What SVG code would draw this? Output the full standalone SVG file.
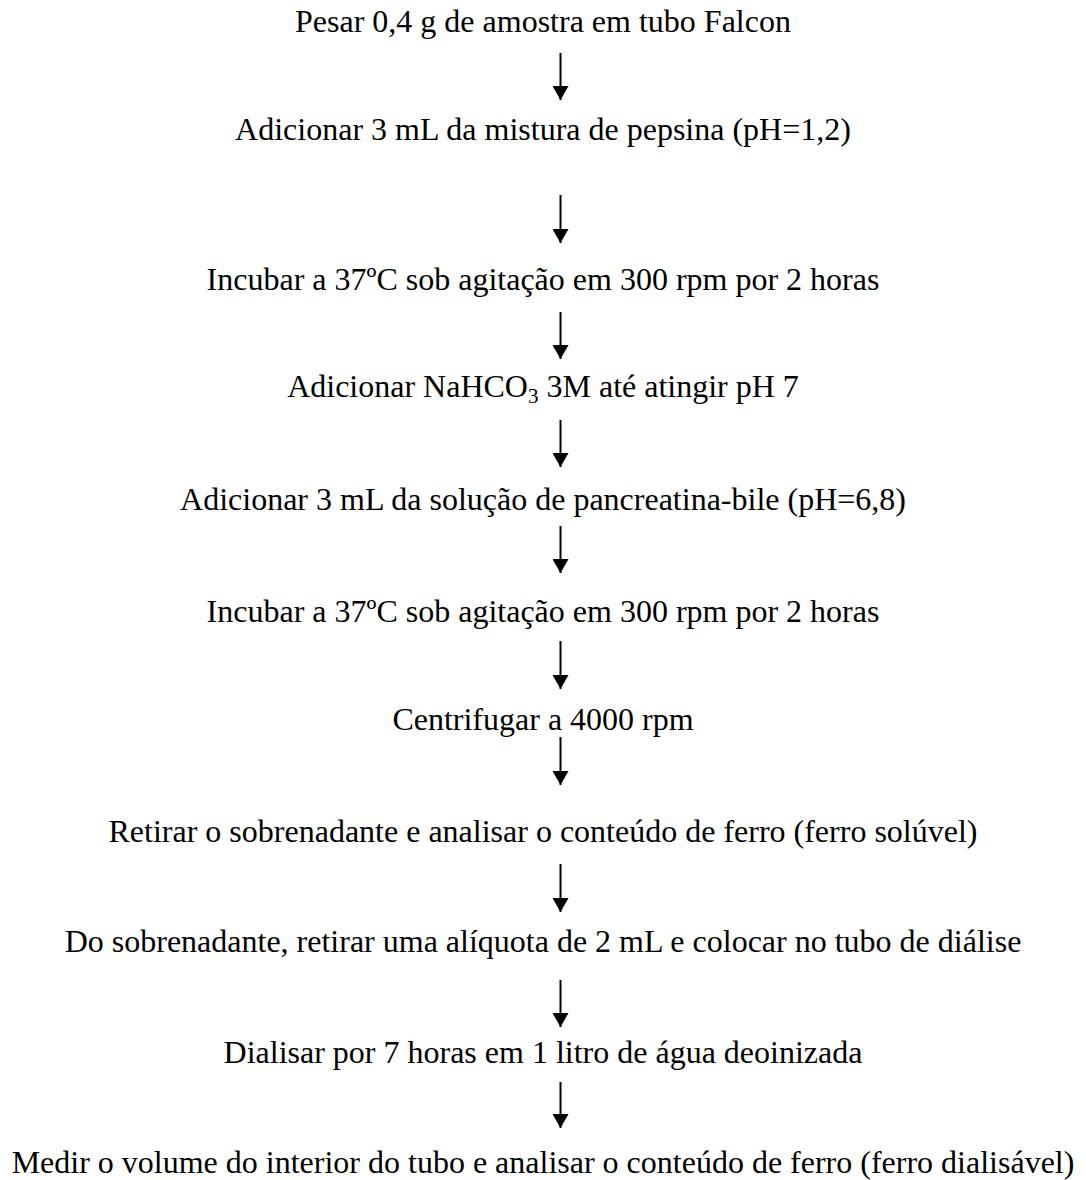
<svg xmlns="http://www.w3.org/2000/svg" width="1086" height="1180" viewBox="0 0 1086 1180">
<style>
  .t { font-family: "Liberation Serif", "Times New Roman", serif; font-size: 32px; fill: #000; text-anchor: middle; }
  .c { stroke: #000; stroke-width: 2; fill: none; marker-end: url(#ah); }
</style>
<defs>
  <marker id="ah" markerUnits="userSpaceOnUse" markerWidth="16" markerHeight="16" refX="14" refY="8" orient="auto">
    <path d="M0,0 L14,8 L0,16 Z" fill="#000"/>
  </marker>
</defs>
<rect width="1086" height="1180" fill="#fff"/>
<g id="n1"><text class="t" x="543" y="32">Pesar 0,4 g de amostra em tubo Falcon</text></g>
<g id="n2"><text class="t" x="543" y="140">Adicionar 3 mL da mistura de pepsina (pH=1,2)</text></g>
<g id="n3"><text class="t" x="543" y="290">Incubar a 37ºC sob agitação em 300 rpm por 2 horas</text></g>
<g id="n4"><text class="t" x="543" y="397">Adicionar NaHCO<tspan font-size="21" dy="6">3</tspan><tspan dy="-6"> 3M até atingir pH 7</tspan></text></g>
<g id="n5"><text class="t" x="543" y="510">Adicionar 3 mL da solução de pancreatina-bile (pH=6,8)</text></g>
<g id="n6"><text class="t" x="543" y="622">Incubar a 37ºC sob agitação em 300 rpm por 2 horas</text></g>
<g id="n7"><text class="t" x="543" y="730">Centrifugar a 4000 rpm</text></g>
<g id="n8"><text class="t" x="543" y="842">Retirar o sobrenadante e analisar o conteúdo de ferro (ferro solúvel)</text></g>
<g id="n9"><text class="t" x="543" y="952">Do sobrenadante, retirar uma alíquota de 2 mL e colocar no tubo de diálise</text></g>
<g id="n10"><text class="t" x="543" y="1063">Dialisar por 7 horas em 1 litro de água deoinizada</text></g>
<g id="n11"><text class="t" x="543" y="1173">Medir o volume do interior do tubo e analisar o conteúdo de ferro (ferro dialisável)</text></g>
<g id="connectors">
  <line class="c" x1="560.5" y1="53" x2="560.5" y2="100"/>
  <line class="c" x1="560.5" y1="195" x2="560.5" y2="243"/>
  <line class="c" x1="560.5" y1="312" x2="560.5" y2="359"/>
  <line class="c" x1="560.5" y1="420" x2="560.5" y2="467"/>
  <line class="c" x1="560.5" y1="526" x2="560.5" y2="573"/>
  <line class="c" x1="560.5" y1="641" x2="560.5" y2="689"/>
  <line class="c" x1="560.5" y1="737" x2="560.5" y2="785"/>
  <line class="c" x1="560.5" y1="864" x2="560.5" y2="912"/>
  <line class="c" x1="560.5" y1="980" x2="560.5" y2="1027"/>
  <line class="c" x1="560.5" y1="1082" x2="560.5" y2="1128"/>
</g>
</svg>
